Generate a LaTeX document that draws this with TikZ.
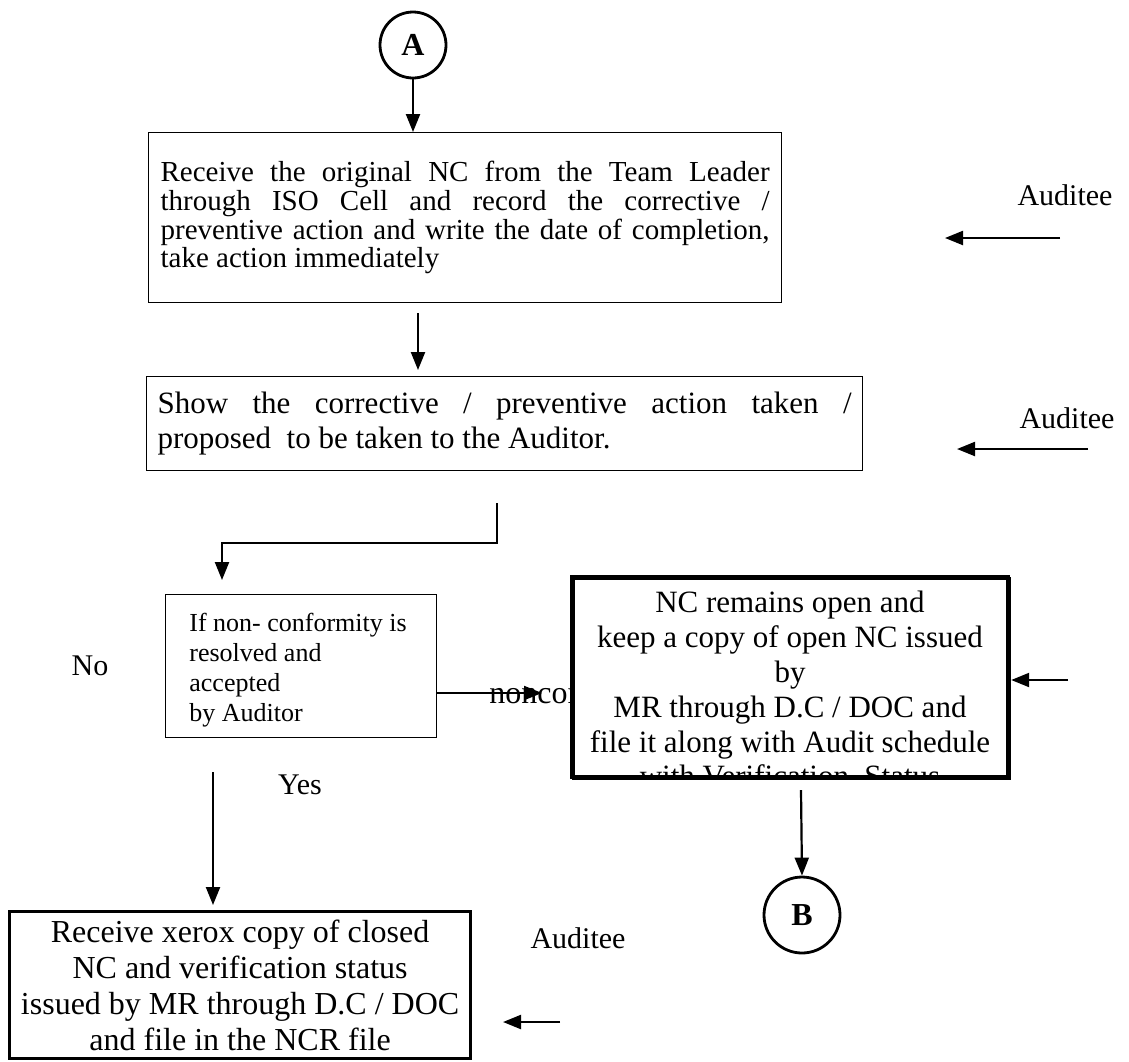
\documentclass[tikz,border=0pt]{standalone}
\usepackage{fontspec}
\setmainfont{Liberation Serif}
\usetikzlibrary{arrows.meta}

\tikzset{
  thinbox/.style={draw, line width=0.6pt, anchor=north west, inner ysep=0pt},
  heavybox/.style={draw, line width=1.6pt, anchor=north west, inner sep=0pt, fill=white},
  conn/.style={line width=1.1pt, -{Triangle[length=9pt,width=7pt]}},
  joint/.style={draw, circle, line width=1.4pt, inner sep=0pt, font=\bfseries\fontsize{16}{16}\selectfont},
  lbl/.style={inner sep=0pt, font=\fontsize{15}{17}\selectfont},
}

\begin{document}
\begin{tikzpicture}[x=0.5pt,y=-0.5pt]
\useasboundingbox (0,0) rectangle (1129,1061);

\node[joint, minimum size=33pt] (A) at (413,45) {A};

\node[thinbox, minimum width=316.5pt, minimum height=85pt, text width=304.5pt, inner xsep=6pt,
      align=justify, font=\fontsize{14.5}{14.35}\selectfont] (recv) at (148,132)
  {\tolerance=10000 Receive the original NC from the Team Leader\linebreak
   through ISO Cell and record the corrective /\linebreak
   preventive action and write the date of completion,\linebreak
   take action immediately};

\node[thinbox, minimum width=358pt, minimum height=47pt, text width=347pt, inner xsep=5.5pt,
      align=justify, font=\fontsize{15.5}{17.5}\selectfont] (show) at (146,376)
  {\tolerance=10000 Show the corrective / preventive action taken /\linebreak
   proposed\ \ to be taken to the Auditor.};

\node[thinbox, minimum width=135.5pt, minimum height=71.5pt] (dec) at (165,594) {};
\node[anchor=west, inner sep=0pt, align=left, font=\fontsize{13}{15}\selectfont] (dectxt) at (189,670)
  {If non- conformity is\\resolved and\\accepted\\by Auditor};

\node[lbl] (no) at (90,666) {No};
\node[lbl] (yes) at (300,785) {Yes};
\node[anchor=base west, inner sep=0pt, font=\fontsize{16}{18}\selectfont] (ncf) at (489,703) {noncon};

\node[heavybox, minimum width=218pt, minimum height=100pt] (open) at (572,577) {};
\begin{scope}
  \clip (572,577) rectangle (1008,777);
  \node[anchor=north, inner sep=0pt, align=center, font=\fontsize{15.5}{17.4}\selectfont] (opentxt) at (790,591)
    {NC remains open and\\keep a copy of open NC issued\\by\\MR through D.C / DOC and\\file it along with Audit schedule\\with Verification\ \ Status};
\end{scope}
\draw[line width=1.6pt] (572,577) rectangle (1008,777);

\node[joint, minimum size=38pt] (B) at (802,915) {B};

\node[heavybox, minimum width=230.5pt, minimum height=73.5pt, align=center,
      font=\fontsize{16}{18}\selectfont] (xerox) at (8,910)
  {Receive xerox copy of closed\\NC and verification status\\issued by MR through D.C / DOC\\and file in the NCR file};

\node[lbl] (aud1) at (1065,195) {Auditee};
\node[lbl] (aud2) at (1067,418) {Auditee};
\node[lbl] (aud3) at (578,938) {Auditee};

\coordinate (c1) at (418,313);
\coordinate (c2) at (497,503);
\coordinate (c3) at (222,543);
\coordinate (c4) at (436,693);
\coordinate (c5) at (542,693);
\coordinate (c6) at (801,790);
\coordinate (c7) at (213,772);
\coordinate (r1) at (1060,238);
\coordinate (e1) at (945,238);
\coordinate (r2) at (1088,449);
\coordinate (e2) at (957,449);
\coordinate (r3) at (560,1022);
\coordinate (e3) at (503,1022);
\coordinate (r4) at (1068,680);

\draw[conn] (A.south) -- (A.south |- recv.north);
\draw[conn, shorten >=3pt] (c1) -- (c1 |- show.north);
\draw[conn, shorten >=7pt] (c2) |- (c3) -- (c3 |- dec.north);
\draw[conn] (c4) -- (c5);
\draw[conn] (c6) -- (B.north);
\draw[conn, shorten >=2.5pt] (c7) -- (c7 |- xerox.north);
\draw[conn] (r1) -- (e1);
\draw[conn] (r2) -- (e2);
\draw[conn] (r3) -- (e3);
\draw[conn] (r4) -- (r4 -| open.east);
\end{tikzpicture}
\end{document}
